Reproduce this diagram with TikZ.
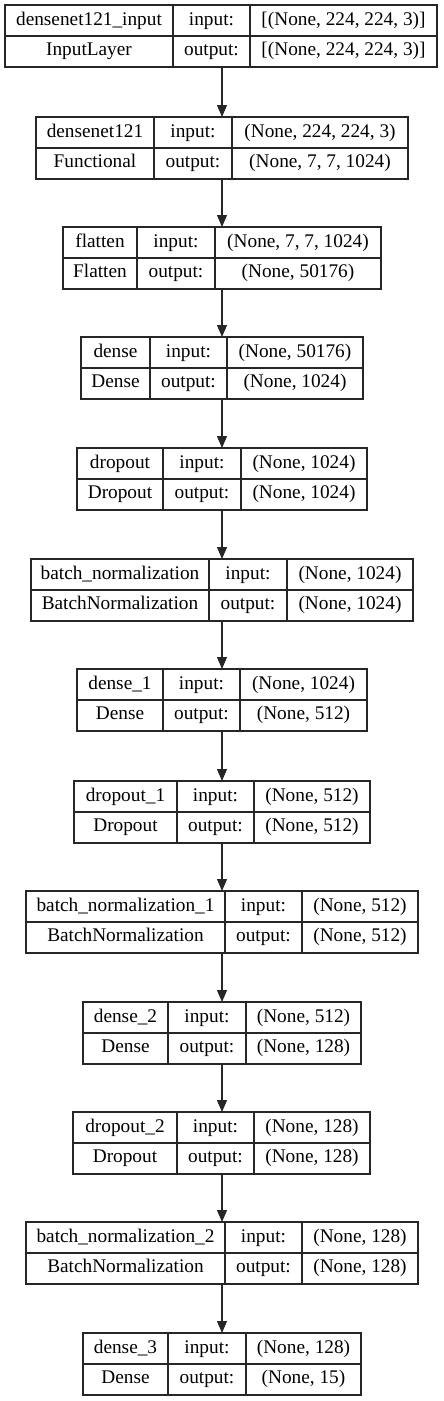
\documentclass[tikz,border=0pt]{standalone}
\usepackage{fontspec}
\setmainfont{Liberation Serif}
\newfontfamily\lserif{Liberation Serif}
\usetikzlibrary{arrows.meta}
\begin{document}
\begin{tikzpicture}[x=1pt,y=-1pt,
  boxline/.style={draw=black!85, line width=1.1pt},
  txt/.style={font=\lserif\fontsize{19.3}{23}\selectfont, inner sep=0pt, anchor=base},
  conn/.style={draw=black!85, line width=1.1pt, -{Triangle[length=12pt,width=10pt]}}]
\useasboundingbox (0,0) rectangle (444,1401);
\foreach \id/\t/\xa/\xb/\xc/\xd/\na/\cl/\inp/\outp in {
 l0/5/5/173/250/437/{densenet121\_input}/{InputLayer}/{[(None, 224, 224, 3)]}/{[(None, 224, 224, 3)]},
 l1/117/36/154/232/408/{densenet121}/{Functional}/{(None, 224, 224, 3)}/{(None, 7, 7, 1024)},
 l2/227/63/137/215/381/{flatten}/{Flatten}/{(None, 7, 7, 1024)}/{(None, 50176)},
 l3/337/81/150/227/363/{dense}/{Dense}/{(None, 50176)}/{(None, 1024)},
 l4/448/77/163/241/367/{dropout}/{Dropout}/{(None, 1024)}/{(None, 1024)},
 l5/559/31/209/287/413/{batch\_normalization}/{BatchNormalization}/{(None, 1024)}/{(None, 1024)},
 l6/669/77/163/240/367/{dense\_1}/{Dense}/{(None, 1024)}/{(None, 512)},
 l7/781/74/177/254/370/{dropout\_1}/{Dropout}/{(None, 512)}/{(None, 512)},
 l8/891/26/225/302/418/{batch\_normalization\_1}/{BatchNormalization}/{(None, 512)}/{(None, 512)},
 l9/1002/83/168/246/361/{dense\_2}/{Dense}/{(None, 512)}/{(None, 128)},
 l10/1112/73/177/254/370/{dropout\_2}/{Dropout}/{(None, 128)}/{(None, 128)},
 l11/1222/26/225/302/418/{batch\_normalization\_2}/{BatchNormalization}/{(None, 128)}/{(None, 128)},
 l12/1333/83/168/246/361/{dense\_3}/{Dense}/{(None, 128)}/{(None, 15)}}
{
  \draw[boxline] (\xa,\t) rectangle (\xd,\t+62);
  \draw[boxline] (\xa,\t+31) -- (\xd,\t+31);
  \draw[boxline] (\xb,\t) -- (\xb,\t+62);
  \draw[boxline] (\xc,\t) -- (\xc,\t+62);
  \coordinate (\id-top) at (222,\t);
  \coordinate (\id-bot) at (222,\t+62);
  \node[txt] (\id-na) at ({(\xa+\xb)/2},\t+20.5) {\na};
  \node[txt] (\id-cl) at ({(\xa+\xb)/2},\t+50.5) {\cl};
  \node[txt] (\id-il) at ({(\xb+\xc)/2},\t+20.5) {input:};
  \node[txt] (\id-ol) at ({(\xb+\xc)/2},\t+50.5) {output:};
  \node[txt] (\id-iv) at ({(\xc+\xd)/2},\t+20.5) {\inp};
  \node[txt] (\id-ov) at ({(\xc+\xd)/2},\t+50.5) {\outp};
}
\foreach \a/\b in {l0/l1,l1/l2,l2/l3,l3/l4,l4/l5,l5/l6,l6/l7,l7/l8,l8/l9,l9/l10,l10/l11,l11/l12}
  \draw[conn] (\a-bot) -- (\b-top);
\end{tikzpicture}
\end{document}
